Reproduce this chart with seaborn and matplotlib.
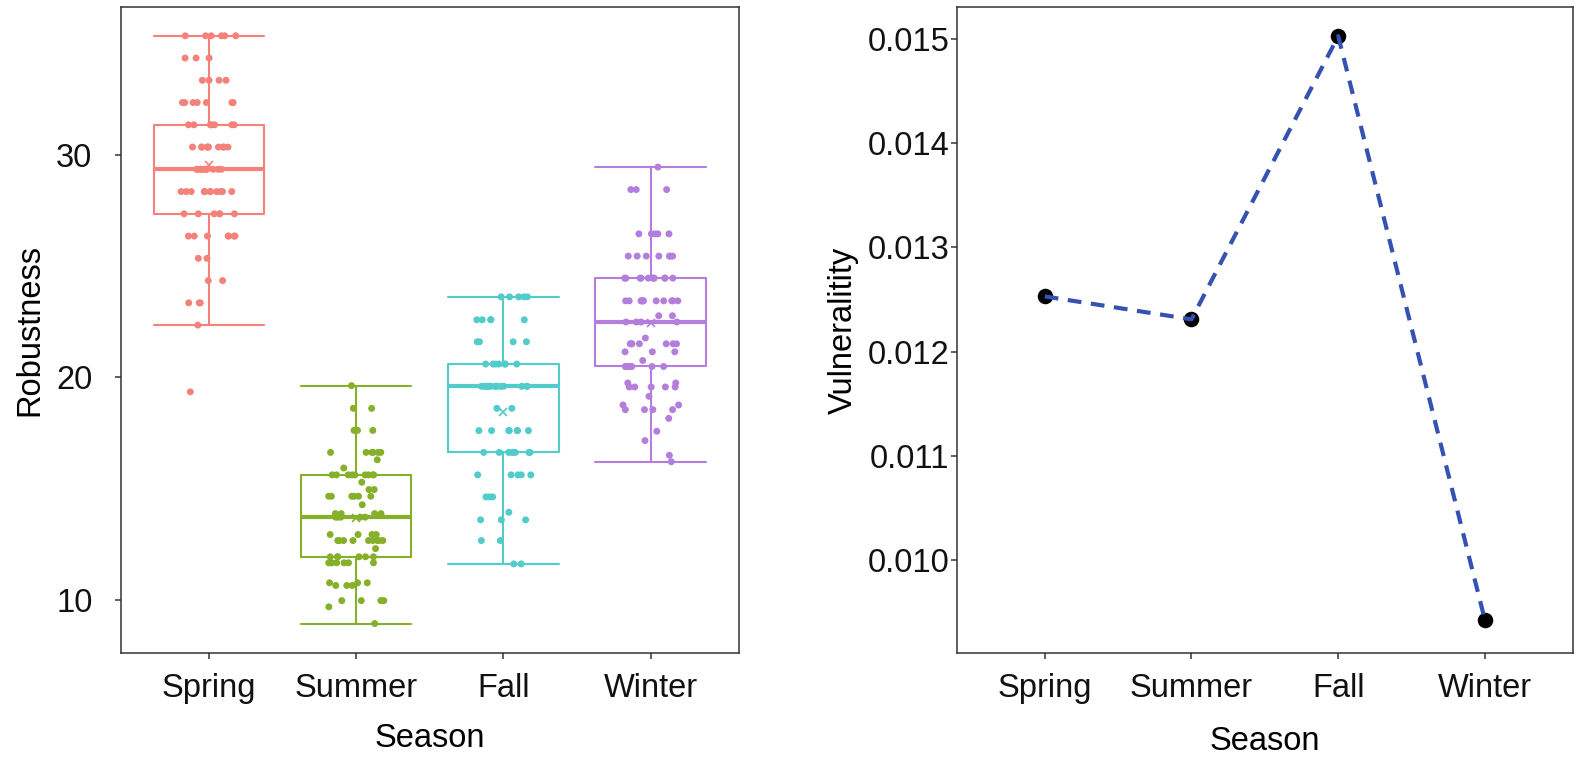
import numpy as np
import pandas as pd
import matplotlib
matplotlib.use("Agg")
import matplotlib.pyplot as plt
from matplotlib.ticker import FormatStrFormatter
import seaborn as sns

# Seasons and colours (ggplot-like hue palette)
seasons = ["Spring", "Summer", "Fall", "Winter"]
season_colors = ["#F4827A", "#86B02A", "#52CBCB", "#B47EDC"]

# Robustness values per season
spring_robustness = [
    35.35, 35.35, 35.35, 35.35, 35.35, 35.35,
    34.35, 34.35, 34.35,
    33.35, 33.35, 33.35, 33.35,
    32.35, 32.35, 32.35, 32.35, 32.35, 32.35, 32.35,
    31.35, 31.35, 31.35, 31.35, 31.35, 31.35, 31.35,
    30.35, 30.35, 30.35, 30.35, 30.35, 30.35, 30.35, 30.35, 30.35, 30.35,
    29.35, 29.35, 29.35, 29.35, 29.35, 29.35, 29.35, 29.35, 29.35, 29.35,
    28.35, 28.35, 28.35, 28.35, 28.35, 28.35, 28.35, 28.35, 28.35, 28.35, 28.35, 28.35,
    27.35, 27.35, 27.35, 27.35, 27.35, 27.35,
    26.35, 26.35, 26.35, 26.35, 26.35, 26.35, 26.35,
    25.35, 25.35,
    24.35, 24.35,
    23.35, 23.35, 23.35,
    22.35,
    19.35,
]
summer_robustness = [
    19.63,
    18.61, 18.61,
    17.62, 17.62, 17.62,
    16.63, 16.63, 16.63, 16.63, 16.63, 16.63,
    16.30, 15.93,
    15.62, 15.62, 15.62, 15.62, 15.62, 15.62, 15.62, 15.62, 15.62,
    15.29,
    14.96, 14.96,
    14.66, 14.66, 14.66, 14.66, 14.66, 14.66,
    14.28,
    13.88, 13.88, 13.88, 13.88,
    13.72, 13.72, 13.72, 13.72, 13.72,
    12.94, 12.94, 12.94, 12.94,
    12.67, 12.67, 12.67, 12.67, 12.67, 12.67, 12.67, 12.67, 12.67,
    12.31,
    11.94, 11.94, 11.94, 11.94, 11.94, 11.94,
    11.67, 11.67, 11.67, 11.67, 11.67, 11.67, 11.67,
    10.77, 10.77, 10.77,
    10.65, 10.65, 10.65,
    9.97, 9.97, 9.97, 9.97,
    9.69,
    8.94,
]
fall_robustness = [
    23.62, 23.62, 23.62, 23.62, 23.62,
    22.59, 22.59, 22.59, 22.59, 22.59,
    21.60, 21.60, 21.60, 21.60,
    20.60, 20.60, 20.60, 20.60, 20.60, 20.60, 20.60,
    19.60, 19.60, 19.60, 19.60, 19.60, 19.60, 19.60,
    19.60, 19.60, 19.60, 19.60, 19.60, 19.60, 19.60,
    18.61, 18.61,
    17.61, 17.61, 17.61, 17.61, 17.61, 17.61, 17.61,
    16.63, 16.63, 16.63, 16.63, 16.63, 16.63, 16.63, 16.63,
    15.62, 15.62, 15.62, 15.62, 15.62,
    14.63, 14.63, 14.63,
    13.94,
    13.60, 13.60, 13.60,
    12.67, 12.67,
    11.62, 11.62,
]
winter_robustness = [
    29.45,
    28.44, 28.44, 28.44,
    26.45, 26.45, 26.45, 26.45, 26.45,
    25.45, 25.45, 25.45, 25.45, 25.45, 25.45, 25.45,
    24.46, 24.46, 24.46, 24.46, 24.46, 24.46, 24.46, 24.46, 24.46, 24.46, 24.46,
    23.44, 23.44, 23.44, 23.44, 23.44, 23.44, 23.44, 23.44, 23.44, 23.44, 23.44,
    22.77, 22.77,
    22.49, 22.49, 22.49, 22.49,
    21.77,
    21.51, 21.51, 21.51, 21.51, 21.51, 21.51, 21.51,
    21.15, 21.15, 21.15,
    20.76,
    20.49, 20.49, 20.49, 20.49, 20.49, 20.49, 20.49, 20.49,
    19.75, 19.75,
    19.57, 19.57, 19.57, 19.57, 19.57,
    19.15,
    18.76, 18.76,
    18.55, 18.55, 18.55, 18.55,
    18.16, 17.58, 17.16, 16.50, 16.21,
]

# Vulnerability per season (right panel)
vulnerability = [0.01253, 0.01231, 0.01503, 0.00942]

# ---------------------------------------------------------------
robust_df = pd.DataFrame({
    "Season": (["Spring"] * len(spring_robustness) + ["Summer"] * len(summer_robustness)
               + ["Fall"] * len(fall_robustness) + ["Winter"] * len(winter_robustness)),
    "Robustness": spring_robustness + summer_robustness + fall_robustness + winter_robustness,
})
vuln_df = pd.DataFrame({"Season": seasons, "Vulnerability": vulnerability})
palette = dict(zip(seasons, season_colors))

sns.set_theme(style="ticks")
plt.rcParams["font.family"] = ["Liberation Sans", "DejaVu Sans"]
plt.rcParams["axes.edgecolor"] = "#333333"
plt.rcParams["axes.linewidth"] = 1.1
plt.rcParams["xtick.color"] = "#333333"
plt.rcParams["ytick.color"] = "#333333"

FS = 23.5
W, H = 1581, 758
fig = plt.figure(figsize=(W / 100, H / 100), dpi=100)
fig.patch.set_facecolor("white")
ax1 = fig.add_axes([120.7 / W, 1 - 652.7 / H, (739 - 120.7) / W, (652.7 - 7.3) / H])
ax2 = fig.add_axes([956.7 / W, 1 - 652.7 / H, (1573 - 956.7) / W, (652.7 - 7.3) / H])

# Left panel: box + jittered points
sns.boxplot(data=robust_df, x="Season", y="Robustness", hue="Season",
            order=seasons, hue_order=seasons, palette=palette, fill=False,
            width=0.75, linewidth=1.5, showfliers=False, showmeans=True,
            meanprops=dict(marker="x", markersize=6, markeredgewidth=1.2),
            medianprops=dict(linewidth=3), capwidths=0.75,
            legend=False, ax=ax1)
for line in ax1.lines:
    if line.get_marker() == "x":
        idx = int(round(line.get_xdata()[0]))
        line.set_markeredgecolor(season_colors[idx])
        line.set_markerfacecolor(season_colors[idx])

np.random.seed(7)
sns.stripplot(data=robust_df, x="Season", y="Robustness", hue="Season",
              order=seasons, hue_order=seasons, palette=palette,
              size=5, jitter=0.19, linewidth=0, legend=False, ax=ax1)

ax1.set_xlim(-0.6, 3.6)
ax1.set_ylim(7.63, 36.63)
ax1.set_yticks([10, 20, 30])
ax1.set_xlabel("Season", fontsize=FS, color="black", labelpad=14)
ax1.set_ylabel("Robustness", fontsize=FS, color="black", labelpad=8)
ax1.tick_params(axis="y", labelsize=FS, labelcolor="#111111", length=4.3, width=1.1, pad=16)
ax1.tick_params(axis="x", labelsize=FS, labelcolor="#111111", length=4.3, width=1.1, pad=10)

# Right panel: dashed line over black points
sns.scatterplot(data=vuln_df, x="Season", y="Vulnerability", color="black",
                s=125, linewidth=0, ax=ax2, zorder=2)
sns.lineplot(data=vuln_df, x="Season", y="Vulnerability", sort=False,
             color="#3552B2", linewidth=3.0, linestyle=(0, (3.3, 2.3)),
             ax=ax2, zorder=3)

ax2.set_xlim(-0.6, 3.6)
ax2.set_ylim(0.009108, 0.015307)
ax2.set_yticks([0.010, 0.011, 0.012, 0.013, 0.014, 0.015])
ax2.yaxis.set_major_formatter(FormatStrFormatter("%.3f"))
ax2.set_xlabel("Season", fontsize=FS, color="black", labelpad=16)
ax2.set_ylabel("Vulneralitity", fontsize=FS, color="black", labelpad=6)
ax2.tick_params(axis="y", labelsize=FS, labelcolor="#111111", length=4.3, width=1.1, pad=1)
ax2.tick_params(axis="x", labelsize=FS, labelcolor="#111111", length=4.3, width=1.1, pad=10)

for ax in (ax1, ax2):
    for side in ["top", "right", "left", "bottom"]:
        ax.spines[side].set_visible(True)

fig.savefig("out.png", dpi=100, facecolor="white")
